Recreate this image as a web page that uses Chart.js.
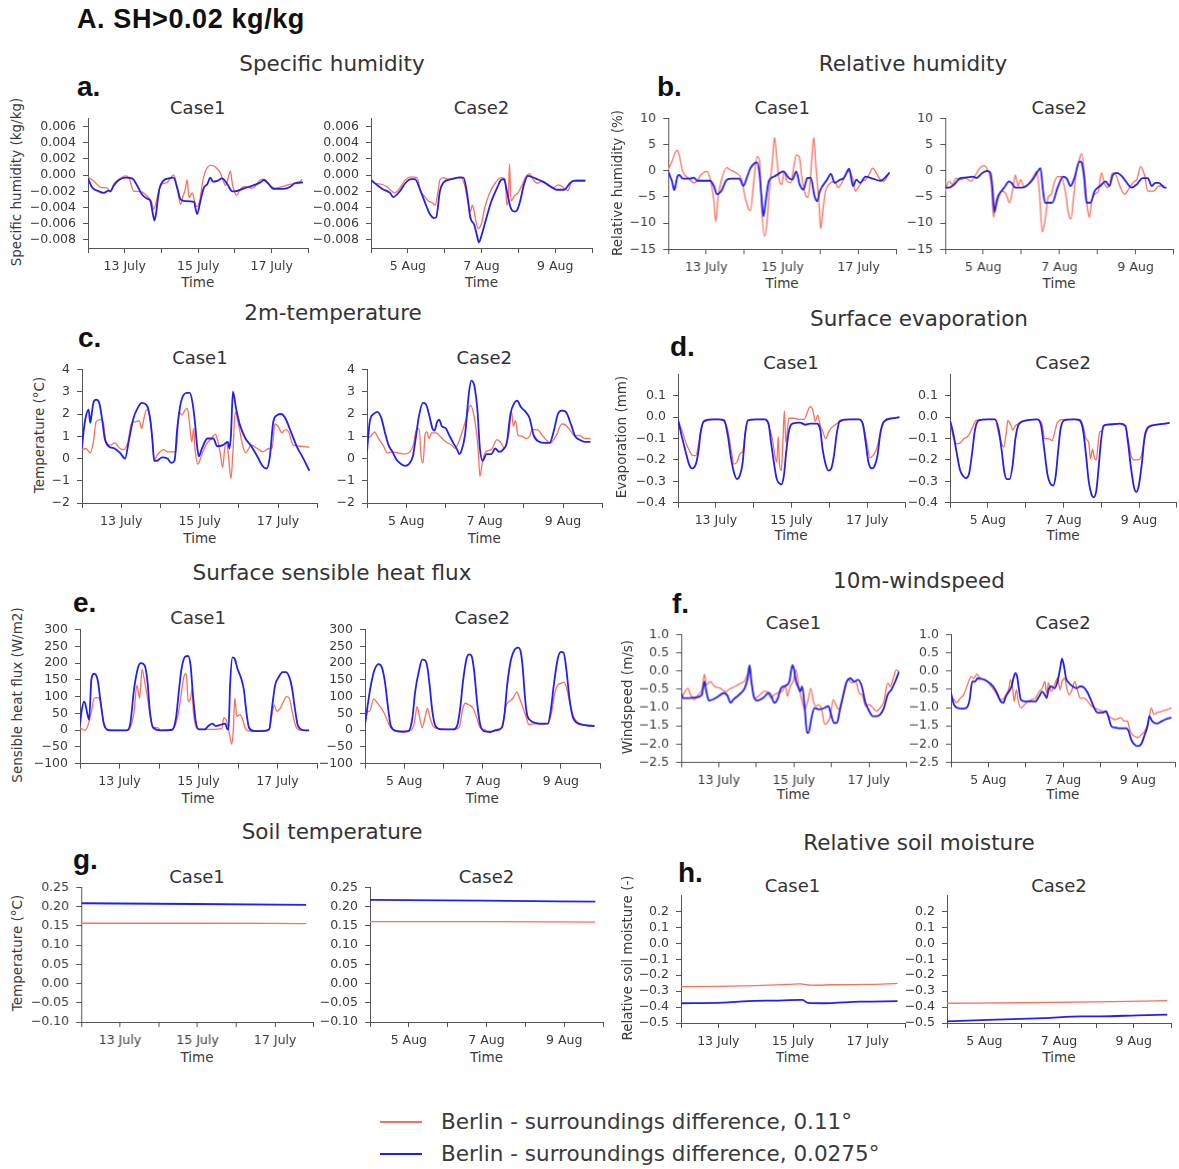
<!DOCTYPE html>
<html>
<head>
<meta charset="utf-8">
<script src="https://cdn.jsdelivr.net/npm/chart.js@4.4.1/dist/chart.umd.min.js"></script>
<style>
  html,body{margin:0;padding:0;background:#fff;width:1179px;height:1169px;overflow:hidden;position:relative;}
  .t{position:absolute;white-space:nowrap;line-height:1;font-family:"DejaVu Sans",sans-serif;color:#333;}
  .c{transform:translate(-50%,-50%);}
  .rot{transform:translate(-50%,-50%) rotate(-90deg);}
  .bold{font-family:"Liberation Sans",Arial,sans-serif;font-weight:bold;color:#111;}
  .chartbox{position:absolute;}
</style>
</head>
<body>
<script>
// ---------------- DATA ----------------
// x values are days since the start of each case (Case1: 12 July 00:00, Case2: 4 Aug 00:00)
const X_TICKS = [0, 1, 2, 3, 4, 5, 6];
const CASE1_XLABELS = ['', '13 July', '', '15 July', '', '17 July', ''];
const CASE2_XLABELS = ['', '5 Aug', '', '7 Aug', '', '9 Aug', ''];

const SH_YTICKS  = [-0.008, -0.006, -0.004, -0.002, 0, 0.002, 0.004, 0.006];
const RH_YTICKS  = [-15, -10, -5, 0, 5, 10];
const T2_YTICKS  = [-2, -1, 0, 1, 2, 3, 4];
const EV_YTICKS  = [-0.4, -0.3, -0.2, -0.1, 0, 0.1];
const SHF_YTICKS = [-100, -50, 0, 50, 100, 150, 200, 250, 300];
const WS_YTICKS  = [-2.5, -2, -1.5, -1, -0.5, 0, 0.5, 1];
const ST_YTICKS  = [-0.1, -0.05, 0, 0.05, 0.1, 0.15, 0.2, 0.25];
const SM_YTICKS  = [-0.5, -0.4, -0.3, -0.2, -0.1, 0, 0.1, 0.2];

const SERIES_NAMES = ['Berlin - surroundings difference, 0.11°', 'Berlin - surroundings difference, 0.0275°'];

// a. Specific humidity (kg/kg)
const SH_C1_011 = [[0,-0.00024],[0.15,-0.0007],[0.34,-0.0015],[0.52,-0.0016],[0.61,-0.002],[0.7,-0.0011],[0.88,-0.0004],[1.02,-0.0001],[1.11,-0.0003],[1.25,-0.002],[1.34,-0.002],[1.47,-0.0021],[1.61,-0.0026],[1.72,-0.0032],[1.79,-0.0042],[1.86,-0.0033],[1.93,-0.0018],[2.02,-0.0011],[2.15,-0.0009],[2.29,-0.0001],[2.34,0],[2.43,-0.0016],[2.52,-0.0036],[2.58,-0.0027],[2.65,-0.0017],[2.7,-0.0006],[2.75,-0.0028],[2.84,-0.0022],[2.9,-0.0032],[2.97,-0.0039],[3.05,-0.003],[3.11,-0.0011],[3.2,0.0005],[3.34,0.0012],[3.47,0.001],[3.61,0.0002],[3.68,-0.0007],[3.75,-0.0013],[3.84,0.0001],[3.88,0.0005],[3.93,-0.0011],[4.0,-0.0022],[4.04,-0.0025],[4.15,-0.0017],[4.27,-0.0014],[4.48,-0.0016],[4.69,-0.0006],[4.79,-0.0005],[4.9,-0.001],[5.1,-0.0016],[5.31,-0.0014],[5.52,-0.0011],[5.73,-0.001],[5.83,-0.0005]];
const SH_C1_0275 = [[0,-0.0004],[0.11,-0.0015],[0.29,-0.002],[0.43,-0.0022],[0.56,-0.0019],[0.61,-0.002],[0.7,-0.0013],[0.84,-0.0006],[1.02,-0.0003],[1.2,-0.0004],[1.34,-0.0013],[1.47,-0.0024],[1.61,-0.0029],[1.7,-0.0032],[1.75,-0.0044],[1.81,-0.0056],[1.86,-0.0045],[1.9,-0.003],[1.95,-0.0016],[2.05,-0.0007],[2.2,-0.0004],[2.33,-0.0003],[2.43,-0.0016],[2.52,-0.003],[2.65,-0.0032],[2.88,-0.0033],[2.97,-0.0048],[3.06,-0.0032],[3.15,-0.0016],[3.25,-0.0011],[3.33,-0.0003],[3.4,-0.0008],[3.52,-0.0007],[3.65,-0.0004],[3.79,-0.0011],[3.93,-0.002],[4.0,-0.002],[4.27,-0.0016],[4.48,-0.0013],[4.69,-0.0009],[4.79,-0.0006],[4.9,-0.001],[5.05,-0.0017],[5.31,-0.0017],[5.52,-0.0014],[5.62,-0.001],[5.85,-0.0009]];
const SH_C2_011 = [[0,-0.0005],[0.1,-0.001],[0.26,-0.0011],[0.42,-0.0014],[0.57,-0.002],[0.64,-0.0022],[0.78,-0.0016],[0.93,-0.0006],[1.09,-0.0002],[1.25,-0.0003],[1.35,-0.002],[1.45,-0.0026],[1.56,-0.0032],[1.66,-0.0034],[1.74,-0.0037],[1.82,-0.002],[1.87,-0.0006],[1.97,-0.0003],[2.08,-0.0005],[2.23,-0.0004],[2.44,-0.0002],[2.54,-0.0012],[2.65,-0.0037],[2.7,-0.0045],[2.75,-0.0037],[2.8,-0.0045],[2.86,-0.0059],[2.91,-0.0066],[2.99,-0.0061],[3.09,-0.004],[3.22,-0.0022],[3.37,-0.001],[3.53,-0.0003],[3.64,-0.0005],[3.69,-0.0037],[3.73,-0.0028],[3.76,0.0014],[3.8,-0.0032],[3.89,-0.0026],[3.99,-0.0022],[4.1,-0.0012],[4.2,-0.0002],[4.3,0.0002],[4.41,-0.0006],[4.52,-0.001],[4.62,-0.0008],[4.78,-0.0012],[4.93,-0.0016],[5.09,-0.0012],[5.24,-0.0016],[5.34,-0.0019],[5.45,-0.0008],[5.6,-0.0006],[5.82,-0.0006]];
const SH_C2_0275 = [[0,-0.0006],[0.16,-0.0012],[0.31,-0.0017],[0.52,-0.0022],[0.6,-0.0027],[0.78,-0.002],[0.93,-0.001],[1.09,-0.0005],[1.19,-0.0005],[1.35,-0.002],[1.51,-0.0039],[1.61,-0.0049],[1.71,-0.0053],[1.77,-0.0052],[1.87,-0.002],[1.97,-0.0009],[2.18,-0.0005],[2.39,-0.0003],[2.51,-0.0003],[2.6,-0.002],[2.7,-0.0053],[2.8,-0.0061],[2.89,-0.0077],[2.93,-0.0083],[3.01,-0.0073],[3.12,-0.0055],[3.27,-0.0032],[3.43,-0.0015],[3.53,-0.0006],[3.61,-0.0005],[3.69,-0.002],[3.79,-0.004],[3.89,-0.0045],[3.97,-0.0043],[4.05,-0.0032],[4.15,-0.0012],[4.26,-0.0001],[4.36,-0.0002],[4.46,-0.0004],[4.67,-0.0008],[4.88,-0.0014],[5.03,-0.0018],[5.24,-0.0018],[5.4,-0.001],[5.5,-0.0007],[5.82,-0.0007]];

// b. Relative humidity (%)
const RH_C1_011 = [[0,0.2],[0.1,1.8],[0.19,3.6],[0.24,3.9],[0.29,3],[0.38,-0.1],[0.53,-1.4],[0.67,-2.3],[0.74,-2.1],[0.86,-0.8],[1.01,-0.1],[1.1,-1.5],[1.2,-5.8],[1.25,-9.7],[1.31,-5.1],[1.39,-2],[1.54,0.6],[1.63,0.2],[1.78,-0.4],[1.92,-1.5],[2.02,-5.1],[2.11,-7.3],[2.16,-7.6],[2.24,-2.6],[2.33,2.7],[2.4,1.8],[2.45,-6.7],[2.53,-12.5],[2.59,-10.1],[2.67,-2.6],[2.73,1.4],[2.79,6.4],[2.85,2.4],[2.91,-1.7],[2.98,-2.6],[3.04,-0.1],[3.12,-2],[3.22,-2.3],[3.29,0.5],[3.36,3],[3.44,2.7],[3.5,-0.8],[3.6,-4.5],[3.67,-5.1],[3.72,-2.6],[3.77,2.4],[3.82,6.4],[3.88,0.5],[3.96,-6.4],[4.0,-11.1],[4.06,-7.6],[4.13,-3.9],[4.22,-2.6],[4.37,-2],[4.46,-3.2],[4.56,-2.3],[4.65,-0.8],[4.75,-0.1],[4.85,-1.7],[4.91,-3.9],[4.99,-3.2],[5.09,-2],[5.18,-1.7],[5.28,-0.6],[5.37,0.5],[5.44,-0.1],[5.57,-1.7],[5.66,-2],[5.81,-0.2]];
const RH_C1_0275 = [[0,-0.1],[0.1,-2],[0.16,-3.7],[0.24,-1.1],[0.29,-0.8],[0.38,-1.5],[0.58,-1.5],[0.67,-1.3],[0.77,-1.9],[1.1,-1.9],[1.2,-2.9],[1.28,-4.5],[1.39,-3.9],[1.54,-1.7],[1.68,-1.5],[1.87,-1.5],[1.97,-2.9],[2.06,-1.4],[2.16,0.5],[2.26,1.4],[2.33,1.6],[2.4,-0.8],[2.45,-5.1],[2.5,-8.7],[2.56,-5.8],[2.64,-2],[2.78,-1.1],[2.93,-0.4],[3.02,-0.1],[3.17,-1.4],[3.26,-1.7],[3.36,-0.1],[3.45,-2.6],[3.55,-3.6],[3.65,-1.4],[3.74,-1.3],[3.84,-4.8],[3.91,-5.8],[3.98,-3.9],[4.17,-1.7],[4.27,-0.6],[4.37,-2.3],[4.51,-1.7],[4.61,-1.4],[4.7,-0.1],[4.75,0.4],[4.85,-2.9],[4.94,-1.7],[5.04,-2.3],[5.18,-1.1],[5.37,-1.5],[5.57,-1.9],[5.81,-0.4]];
const RH_C2_011 = [[0,-3.9],[0.1,-2],[0.19,-2.6],[0.29,-1.4],[0.39,-1.7],[0.53,-1.4],[0.68,-2],[0.77,-1.1],[0.92,0.6],[1.02,1.0],[1.11,0.2],[1.21,-2.6],[1.27,-8.9],[1.33,-5.8],[1.4,-4.5],[1.5,-3.9],[1.6,-4.5],[1.69,-6.1],[1.77,-3.6],[1.84,-0.8],[1.91,-2.9],[1.98,-1.7],[2.08,-3.2],[2.18,-2.6],[2.32,-1.1],[2.4,-0.1],[2.47,-3.9],[2.55,-11.7],[2.62,-9.5],[2.7,-5.1],[2.78,-4.5],[2.86,-2.3],[2.95,-1.1],[3.05,-1.1],[3.15,-3.9],[3.24,-8.3],[3.3,-9.2],[3.37,-5.1],[3.44,-0.1],[3.53,2.4],[3.58,3.3],[3.65,-0.1],[3.73,-7],[3.78,-8.9],[3.85,-5.8],[3.92,-4.5],[4.02,-3.9],[4.1,-0.4],[4.19,-2.6],[4.29,-3.2],[4.39,-0.4],[4.48,-0.8],[4.6,-3.2],[4.71,-4.5],[4.84,-3.2],[4.97,-2],[5.03,-1.7],[5.13,0.8],[5.23,-0.8],[5.32,-3.9],[5.47,-3.9],[5.61,-2.9],[5.76,-2.9]];
const RH_C2_0275 = [[0,-3.2],[0.1,-3.2],[0.24,-2.6],[0.39,-1.4],[0.53,-1.3],[0.73,-1.1],[0.82,-1.4],[0.97,-0.4],[1.11,0],[1.19,-0.4],[1.24,-3.2],[1.29,-7.9],[1.33,-6.7],[1.4,-4.8],[1.55,-3.2],[1.68,-2],[1.74,-2.3],[1.84,-3.2],[2.03,-3.2],[2.18,-2.6],[2.32,-1.4],[2.42,-0.2],[2.5,0.5],[2.57,-3.9],[2.62,-6.1],[2.81,-6.1],[2.95,-3.2],[3.1,-1.1],[3.19,-1.5],[3.29,-2.9],[3.39,-1.4],[3.53,1.8],[3.58,1.6],[3.65,-1.4],[3.71,-6.1],[3.81,-6.1],[3.92,-3.9],[4.07,-2.9],[4.21,-2],[4.31,-2.9],[4.4,-0.8],[4.5,-0.4],[4.65,-1.1],[4.74,-2],[4.89,-3.2],[5.03,-2.6],[5.18,-1.4],[5.32,-1.4],[5.42,-2.9],[5.52,-2.3],[5.61,-2.3],[5.76,-3.2],[5.81,-3.2]];

// c. 2m-temperature (°C)
const T2_C1_011 = [[0,0.4],[0.1,0.45],[0.21,0.25],[0.29,0.75],[0.36,1.65],[0.46,1.75],[0.54,1.65],[0.61,0.75],[0.73,0.6],[0.83,0.7],[0.97,0.45],[1.07,0.4],[1.17,0.75],[1.26,1.55],[1.36,1.65],[1.46,1.7],[1.52,1.35],[1.58,1.8],[1.65,2.2],[1.72,1.95],[1.8,0.75],[1.84,-0.05],[1.94,0.2],[2.08,0.4],[2.18,0.3],[2.33,0.3],[2.4,0.3],[2.48,2.1],[2.55,1.95],[2.62,2.15],[2.69,2.25],[2.75,1.45],[2.8,0.75],[2.85,1.35],[2.88,0.5],[2.96,-0.25],[3.04,0.1],[3.16,0.6],[3.3,0.9],[3.4,1.1],[3.47,0.75],[3.52,0.3],[3.59,-0.4],[3.64,0.45],[3.69,0.75],[3.74,0.05],[3.8,-0.9],[3.85,0.3],[3.91,2.1],[3.98,1.65],[4.08,0.75],[4.17,0.25],[4.32,0.6],[4.47,0.45],[4.61,0.3],[4.76,0.45],[4.85,0.45],[4.92,1.55],[5.0,1.45],[5.1,1.15],[5.19,1.3],[5.27,1.2],[5.39,0.6],[5.58,0.55],[5.8,0.5]];
const T2_C1_0275 = [[0,0.5],[0.05,1.35],[0.1,1.9],[0.17,2.2],[0.21,1.6],[0.24,1.9],[0.29,2.5],[0.36,2.65],[0.44,2.5],[0.51,1.8],[0.58,0.9],[0.68,0.55],[0.83,0.45],[0.97,0.25],[1.1,0],[1.19,0.75],[1.31,1.8],[1.43,2.3],[1.52,2.5],[1.65,2.4],[1.75,1.65],[1.8,0.75],[1.84,-0.1],[1.91,-0.1],[2.04,0.05],[2.18,0],[2.28,-0.2],[2.36,-0.1],[2.43,1.35],[2.52,2.5],[2.67,2.95],[2.75,2.95],[2.82,2.5],[2.88,1.65],[2.94,0.5],[2.98,0.1],[3.06,0.45],[3.2,0.9],[3.35,0.9],[3.45,0.55],[3.59,0.6],[3.72,0.75],[3.76,0.45],[3.8,1.05],[3.85,3.0],[3.93,2.25],[4.03,1.5],[4.17,0.9],[4.32,0.55],[4.47,0.1],[4.61,-0.35],[4.71,-0.45],[4.79,0.05],[4.88,1.65],[4.98,1.95],[5.08,2.0],[5.19,1.8],[5.34,1.15],[5.49,0.5],[5.63,0.05],[5.8,-0.55]];
const T2_C2_011 = [[0,0.9],[0.1,1.0],[0.19,1.2],[0.29,0.9],[0.41,0.6],[0.52,0.25],[0.65,0.3],[0.8,0.25],[0.94,0.2],[1.09,0.3],[1.18,0.6],[1.26,1.3],[1.33,1.35],[1.38,0.1],[1.43,-0.2],[1.48,1.05],[1.53,1.2],[1.58,0.9],[1.65,1.15],[1.77,1.15],[1.86,1.0],[2.01,0.75],[2.16,0.6],[2.25,0.45],[2.33,0.7],[2.43,1.2],[2.54,1.85],[2.64,2.4],[2.72,2.0],[2.79,1.2],[2.84,0.3],[2.88,-0.8],[2.95,-0.1],[3.03,0.3],[3.17,0.4],[3.32,0.85],[3.42,0.7],[3.51,0.45],[3.61,1.05],[3.69,2.1],[3.73,1.45],[3.79,1.7],[3.85,1.05],[3.95,1.0],[4.05,0.9],[4.15,1.0],[4.21,1.3],[4.34,1.3],[4.49,1.0],[4.68,0.7],[4.83,1.05],[4.97,1.55],[5.07,1.5],[5.21,1.2],[5.31,1.0],[5.41,1.05],[5.55,0.9],[5.7,0.9]];
const T2_C2_0275 = [[0,0.3],[0.07,1.65],[0.17,2.0],[0.26,2.1],[0.36,1.85],[0.46,1.15],[0.55,0.6],[0.65,0.3],[0.75,-0.05],[0.87,-0.25],[0.97,-0.33],[1.07,-0.25],[1.17,0.1],[1.23,0.75],[1.33,1.95],[1.43,2.5],[1.5,2.45],[1.58,2.0],[1.67,1.35],[1.72,1.25],[1.79,1.65],[1.84,1.75],[1.91,1.45],[2.01,1.35],[2.11,1.0],[2.2,0.7],[2.3,0.4],[2.35,0.2],[2.4,0.3],[2.5,1.05],[2.6,2.95],[2.66,3.5],[2.74,3.25],[2.82,2.1],[2.88,0.45],[2.95,-0.1],[3.05,0.2],[3.17,0.2],[3.27,0.45],[3.37,0.3],[3.47,0.4],[3.57,0.75],[3.66,2.0],[3.76,2.5],[3.83,2.6],[3.93,2.3],[4.02,2.15],[4.15,1.8],[4.25,1.05],[4.39,0.75],[4.54,0.7],[4.66,0.7],[4.76,1.2],[4.87,2.0],[4.97,2.15],[5.07,2.1],[5.21,1.5],[5.31,1.0],[5.41,0.85],[5.55,0.75],[5.7,0.75]];

// d. Surface evaporation (mm)
const EV_C1_011 = [[0,-0.015],[0.1,-0.06],[0.21,-0.12],[0.31,-0.16],[0.39,-0.18],[0.47,-0.18],[0.54,-0.13],[0.6,-0.065],[0.68,-0.02],[1.07,-0.01],[1.22,-0.02],[1.32,-0.065],[1.41,-0.16],[1.48,-0.22],[1.56,-0.21],[1.64,-0.17],[1.71,-0.16],[1.78,-0.07],[1.85,-0.015],[2.29,-0.01],[2.39,-0.035],[2.49,-0.1],[2.56,-0.18],[2.61,-0.21],[2.65,-0.09],[2.68,-0.22],[2.73,-0.25],[2.77,-0.12],[2.81,0.03],[2.85,-0.12],[2.93,-0.005],[3.07,-0.005],[3.22,-0.01],[3.34,-0.01],[3.41,0.02],[3.49,0.05],[3.56,0.035],[3.63,-0.02],[3.69,0.01],[3.76,-0.04],[3.82,-0.065],[3.9,-0.1],[3.98,-0.07],[4.05,-0.05],[4.12,-0.04],[4.2,-0.03],[4.29,-0.015],[4.78,-0.01],[4.9,-0.04],[5.0,-0.13],[5.07,-0.19],[5.15,-0.18],[5.22,-0.16],[5.29,-0.12],[5.37,-0.06],[5.46,-0.02],[5.85,0]];
const EV_C1_0275 = [[0,-0.01],[0.1,-0.09],[0.2,-0.16],[0.29,-0.22],[0.37,-0.24],[0.47,-0.22],[0.54,-0.16],[0.6,-0.07],[0.68,-0.02],[0.88,-0.01],[1.07,-0.01],[1.22,-0.015],[1.32,-0.09],[1.39,-0.18],[1.48,-0.26],[1.56,-0.29],[1.64,-0.27],[1.71,-0.21],[1.78,-0.07],[1.85,-0.015],[2.05,-0.01],[2.29,-0.01],[2.39,-0.03],[2.46,-0.12],[2.54,-0.22],[2.61,-0.29],[2.68,-0.31],[2.73,-0.315],[2.8,-0.27],[2.86,-0.16],[2.93,-0.065],[3.02,-0.03],[3.22,-0.025],[3.37,-0.035],[3.49,-0.03],[3.66,-0.03],[3.76,-0.06],[3.82,-0.15],[3.9,-0.22],[3.98,-0.25],[4.05,-0.24],[4.12,-0.18],[4.2,-0.07],[4.27,-0.02],[4.49,-0.01],[4.78,-0.01],[4.88,-0.03],[4.96,-0.12],[5.03,-0.21],[5.12,-0.24],[5.19,-0.23],[5.27,-0.18],[5.35,-0.07],[5.44,-0.02],[5.66,-0.005],[5.85,0]];
const EV_C2_011 = [[0,-0.015],[0.08,-0.09],[0.17,-0.125],[0.27,-0.12],[0.37,-0.1],[0.47,-0.09],[0.51,-0.08],[0.59,-0.05],[0.69,-0.015],[1.0,-0.01],[1.19,-0.01],[1.29,-0.08],[1.37,-0.125],[1.42,-0.14],[1.49,-0.07],[1.53,-0.015],[1.6,-0.035],[1.66,-0.06],[1.73,-0.04],[1.83,-0.03],[2.02,-0.015],[2.31,-0.01],[2.44,-0.035],[2.5,-0.1],[2.6,-0.1],[2.7,-0.11],[2.77,-0.07],[2.83,-0.03],[2.9,-0.015],[3.04,-0.01],[3.43,-0.01],[3.52,-0.04],[3.6,-0.1],[3.67,-0.12],[3.72,-0.195],[3.77,-0.15],[3.82,-0.19],[3.87,-0.2],[3.92,-0.12],[3.96,-0.07],[4.01,-0.065],[4.11,-0.035],[4.49,-0.03],[4.64,-0.045],[4.71,-0.1],[4.79,-0.18],[4.87,-0.2],[4.96,-0.2],[5.03,-0.195],[5.1,-0.15],[5.15,-0.1],[5.25,-0.05],[5.81,-0.027]];
const EV_C2_0275 = [[0,-0.015],[0.08,-0.07],[0.17,-0.16],[0.27,-0.25],[0.37,-0.28],[0.42,-0.285],[0.51,-0.26],[0.59,-0.16],[0.66,-0.06],[0.76,-0.015],[1.0,-0.01],[1.19,-0.01],[1.29,-0.06],[1.37,-0.16],[1.44,-0.26],[1.5,-0.29],[1.58,-0.29],[1.66,-0.22],[1.73,-0.1],[1.83,-0.03],[2.02,-0.015],[2.31,-0.01],[2.41,-0.04],[2.5,-0.16],[2.58,-0.27],[2.65,-0.31],[2.73,-0.32],[2.8,-0.27],[2.86,-0.16],[2.92,-0.06],[3.02,-0.015],[3.28,-0.01],[3.43,-0.015],[3.52,-0.06],[3.6,-0.18],[3.67,-0.3],[3.74,-0.36],[3.8,-0.375],[3.87,-0.345],[3.93,-0.24],[3.99,-0.12],[4.06,-0.04],[4.2,-0.035],[4.49,-0.03],[4.64,-0.04],[4.71,-0.12],[4.79,-0.24],[4.87,-0.33],[4.93,-0.35],[5.0,-0.315],[5.08,-0.21],[5.15,-0.09],[5.25,-0.045],[5.46,-0.035],[5.71,-0.03],[5.81,-0.027]];

// e. Surface sensible heat flux (W/m2)
const SHF_C1_011 = [[0,7],[0.07,2],[0.13,-1],[0.21,17],[0.29,56],[0.36,95],[0.45,97],[0.52,85],[0.6,21],[0.69,2],[1.18,-1],[1.27,7],[1.37,56],[1.44,134],[1.51,95],[1.57,182],[1.64,143],[1.71,95],[1.77,46],[1.85,9],[1.97,7],[2.04,-1],[2.33,1],[2.43,21],[2.51,65],[2.57,114],[2.64,163],[2.69,168],[2.74,85],[2.8,95],[2.84,122],[2.87,56],[2.93,12],[3.01,2],[3.39,2],[3.59,5],[3.64,36],[3.7,31],[3.76,2],[3.8,-22],[3.84,-42],[3.88,-3],[3.92,95],[3.97,41],[4.05,46],[4.12,31],[4.18,7],[4.28,-3],[4.65,-1],[4.79,2],[4.86,46],[4.92,75],[4.98,56],[5.08,67],[5.15,85],[5.23,100],[5.3,95],[5.37,56],[5.47,9],[5.62,-1],[5.8,-1]];
const SHF_C1_0275 = [[0,17],[0.04,56],[0.1,85],[0.13,80],[0.19,46],[0.23,31],[0.29,153],[0.36,168],[0.45,148],[0.52,85],[0.6,21],[0.68,2],[0.79,-1],[1.18,-1],[1.27,17],[1.37,124],[1.47,187],[1.54,200],[1.64,192],[1.71,143],[1.77,56],[1.85,7],[2.04,-1],[2.33,1],[2.43,36],[2.51,124],[2.57,183],[2.67,220],[2.74,221],[2.8,192],[2.86,104],[2.93,26],[3.01,2],[3.15,2],[3.25,12],[3.35,19],[3.44,12],[3.54,15],[3.68,19],[3.73,2],[3.76,2],[3.8,134],[3.86,217],[3.92,212],[3.99,182],[4.07,158],[4.15,119],[4.21,56],[4.28,7],[4.41,-3],[4.65,-3],[4.79,2],[4.86,65],[4.94,134],[5.03,158],[5.13,173],[5.21,173],[5.3,158],[5.37,124],[5.44,65],[5.52,12],[5.71,-1],[5.8,-1]];
const SHF_C2_011 = [[0,21],[0.07,56],[0.12,56],[0.22,93],[0.32,80],[0.42,65],[0.51,46],[0.61,17],[0.71,2],[0.96,-3],[1.16,-1],[1.26,21],[1.33,70],[1.39,41],[1.46,7],[1.53,36],[1.59,65],[1.66,36],[1.74,12],[1.85,5],[2.25,2],[2.4,7],[2.5,65],[2.56,80],[2.66,75],[2.76,65],[2.84,41],[2.94,7],[3.04,2],[3.19,-8],[3.34,2],[3.49,7],[3.61,75],[3.68,85],[3.78,95],[3.88,114],[3.93,100],[4.01,75],[4.11,41],[4.18,17],[4.33,19],[4.52,17],[4.67,19],[4.77,56],[4.84,107],[4.92,134],[5.0,139],[5.07,143],[5.14,129],[5.22,85],[5.32,41],[5.42,24],[5.61,15],[5.86,12]];
const SHF_C2_0275 = [[0,17],[0.07,75],[0.15,134],[0.25,182],[0.35,197],[0.43,187],[0.51,143],[0.58,75],[0.66,12],[0.81,-3],[0.96,-5],[1.11,-3],[1.21,36],[1.28,114],[1.38,178],[1.46,210],[1.54,207],[1.6,182],[1.65,134],[1.72,56],[1.8,12],[1.95,2],[2.25,2],[2.35,12],[2.43,65],[2.5,143],[2.59,212],[2.66,226],[2.72,221],[2.79,173],[2.86,85],[2.94,17],[3.04,-3],[3.19,-5],[3.34,-1],[3.49,7],[3.56,46],[3.63,134],[3.73,212],[3.83,241],[3.91,246],[3.98,231],[4.03,182],[4.08,104],[4.13,51],[4.23,28],[4.38,21],[4.52,19],[4.67,19],[4.74,56],[4.82,134],[4.92,212],[5.0,233],[5.07,231],[5.14,182],[5.22,95],[5.3,41],[5.42,21],[5.61,15],[5.86,12]];

// f. 10m-windspeed (m/s)
const WS_C1_011 = [[0,-0.74],[0.08,-0.6],[0.18,-0.47],[0.25,-0.65],[0.35,-0.78],[0.45,-0.65],[0.55,-0.51],[0.62,-0.09],[0.67,-0.38],[0.77,-0.29],[0.89,-0.42],[1.04,-0.47],[1.19,-0.56],[1.29,-0.49],[1.44,-0.42],[1.59,-0.33],[1.69,-0.27],[1.77,-0.06],[1.82,0.12],[1.87,-0.29],[1.97,-0.74],[2.1,-0.65],[2.2,-0.56],[2.3,-0.56],[2.38,-0.74],[2.48,-0.65],[2.58,-0.6],[2.68,-0.56],[2.78,-0.42],[2.83,-0.69],[2.9,-0.42],[2.98,-0.29],[3.06,0.03],[3.13,-0.42],[3.22,-0.83],[3.29,-1.05],[3.37,-0.83],[3.45,-0.47],[3.52,-0.83],[3.59,-0.96],[3.67,-0.92],[3.75,-1.1],[3.82,-1.46],[3.89,-1.42],[3.97,-1.24],[4.05,-0.78],[4.12,-0.92],[4.19,-1.05],[4.27,-0.83],[4.37,-0.38],[4.45,-0.24],[4.55,-0.33],[4.65,-0.29],[4.74,-0.6],[4.82,-0.65],[4.91,-0.96],[5.01,-0.92],[5.11,-1.01],[5.2,-1.1],[5.3,-1.01],[5.4,-0.83],[5.5,-0.33],[5.57,-0.42],[5.65,-0.2],[5.73,0.03],[5.8,-0.02]];
const WS_C1_0275 = [[0,-0.6],[0.05,-0.74],[0.2,-0.74],[0.4,-0.72],[0.55,-0.65],[0.62,-0.29],[0.67,-0.56],[0.74,-0.81],[0.84,-0.78],[0.99,-0.69],[1.14,-0.6],[1.24,-0.69],[1.31,-0.87],[1.39,-0.78],[1.54,-0.65],[1.69,-0.47],[1.77,-0.2],[1.82,0.16],[1.87,-0.29],[1.93,-0.69],[2.03,-0.81],[2.18,-0.74],[2.33,-0.6],[2.4,-0.69],[2.48,-0.87],[2.56,-0.78],[2.66,-0.47],[2.78,-0.4],[2.88,-0.29],[2.96,0.16],[3.0,0.07],[3.06,-0.29],[3.13,-0.47],[3.17,-0.56],[3.22,-0.42],[3.29,-1.01],[3.35,-1.69],[3.39,-1.69],[3.47,-1.28],[3.55,-1.01],[3.67,-1.05],[3.82,-1.01],[3.92,-0.96],[3.99,-1.19],[4.07,-1.42],[4.15,-1.42],[4.22,-1.1],[4.32,-0.65],[4.41,-0.29],[4.51,-0.2],[4.61,-0.29],[4.71,-0.24],[4.81,-0.42],[4.91,-0.87],[5.01,-1.1],[5.11,-1.24],[5.2,-1.24],[5.3,-1.19],[5.4,-1.01],[5.5,-0.65],[5.6,-0.51],[5.7,-0.29],[5.8,-0.02]];
const WS_C2_011 = [[0,-0.74],[0.08,-0.78],[0.15,-0.87],[0.25,-0.74],[0.34,-0.65],[0.44,-0.38],[0.54,-0.15],[0.61,-0.2],[0.69,-0.09],[0.79,-0.2],[0.93,-0.24],[1.08,-0.42],[1.18,-0.56],[1.28,-0.74],[1.38,-0.78],[1.47,-0.65],[1.55,-0.47],[1.59,-0.24],[1.65,-0.47],[1.69,-0.83],[1.75,-0.51],[1.8,-0.83],[1.87,-1.01],[1.97,-0.92],[2.06,-0.83],[2.16,-0.78],[2.26,-0.74],[2.36,-0.56],[2.44,-0.47],[2.51,-0.29],[2.56,-0.6],[2.61,-0.33],[2.68,-0.56],[2.77,-0.38],[2.85,-0.2],[2.92,-0.51],[2.97,-0.29],[3.05,-0.2],[3.09,-0.42],[3.16,-0.65],[3.24,-0.51],[3.31,-0.29],[3.38,-0.51],[3.46,-0.74],[3.56,-0.74],[3.66,-0.83],[3.76,-0.96],[3.85,-1.01],[3.93,-1.05],[4.05,-1.1],[4.15,-1.14],[4.22,-1.24],[4.29,-1.28],[4.39,-1.33],[4.54,-1.28],[4.64,-1.37],[4.72,-1.37],[4.78,-1.6],[4.82,-1.69],[4.9,-1.78],[5.0,-1.82],[5.11,-1.73],[5.21,-1.6],[5.29,-1.33],[5.36,-1.01],[5.43,-1.19],[5.52,-1.14],[5.65,-1.1],[5.8,-1.05],[5.9,-1.01]];
const WS_C2_0275 = [[0,-0.6],[0.08,-0.92],[0.18,-1.01],[0.3,-1.03],[0.41,-1.01],[0.49,-0.83],[0.57,-0.29],[0.64,-0.29],[0.71,-0.2],[0.84,-0.22],[0.98,-0.29],[1.13,-0.42],[1.23,-0.6],[1.33,-0.83],[1.4,-0.87],[1.47,-0.69],[1.55,-0.56],[1.62,-0.42],[1.67,-0.2],[1.72,-0.06],[1.77,-0.15],[1.82,-0.51],[1.87,-0.78],[1.97,-0.83],[2.11,-0.83],[2.26,-0.83],[2.36,-0.69],[2.44,-0.56],[2.51,-0.65],[2.56,-0.74],[2.61,-0.51],[2.68,-0.42],[2.77,-0.47],[2.85,-0.29],[2.92,0.07],[2.97,0.34],[3.02,0.16],[3.08,-0.2],[3.16,-0.33],[3.26,-0.42],[3.36,-0.47],[3.46,-0.42],[3.56,-0.45],[3.66,-0.6],[3.76,-0.83],[3.85,-1.05],[3.93,-1.14],[4.05,-1.14],[4.15,-1.1],[4.22,-1.28],[4.29,-1.51],[4.39,-1.55],[4.54,-1.57],[4.69,-1.57],[4.75,-1.64],[4.82,-1.87],[4.9,-2.0],[5.0,-2.06],[5.09,-2.0],[5.19,-1.73],[5.26,-1.51],[5.31,-1.24],[5.38,-1.37],[5.5,-1.44],[5.65,-1.37],[5.8,-1.3],[5.9,-1.28]];

// g. Soil temperature (°C)
const ST_C1_011  = [[0,0.157],[2.9,0.157],[5.8,0.156]];
const ST_C1_0275 = [[0,0.209],[2.9,0.207],[5.8,0.205]];
const ST_C2_011  = [[0,0.161],[2.9,0.161],[5.8,0.160]];
const ST_C2_0275 = [[0,0.218],[2.9,0.216],[5.8,0.213]];

// h. Relative soil moisture (-)
const SM_C1_011  = [[0,-0.272],[1,-0.27],[2,-0.265],[2.9,-0.258],[3.2,-0.255],[3.45,-0.262],[3.7,-0.263],[4.0,-0.26],[5.0,-0.258],[5.8,-0.252]];
const SM_C1_0275 = [[0,-0.376],[1.1,-0.372],[1.8,-0.363],[2.5,-0.359],[3.25,-0.355],[3.4,-0.374],[3.8,-0.376],[4.8,-0.366],[5.8,-0.363]];
const SM_C2_011  = [[0,-0.376],[2,-0.373],[4,-0.368],[5.9,-0.36]];
const SM_C2_0275 = [[0,-0.49],[1.1,-0.48],[2.6,-0.469],[3.6,-0.458],[4.1,-0.458],[5.1,-0.452],[5.9,-0.448]];

// ---------------- LAYOUT / STYLE ----------------
const RED = '#f8705e', BLUE = '#2020f2';
const AX = '#555555', TXT = '#3a3a3a';

const PANELS = [
  {letter:'a.', lx:77, lb:97, title:'Specific humidity', tx:332, ty:63, ylabel:'Specific humidity (kg/kg)', ylx:17,
   yt:SH_YTICKS, dec:3, ymin:-0.009, ymax:0.007, top:116, bot:248, c1:[87.6,308], c2:[371,592], caseY:107, timeY:282,
   d1:[SH_C1_011, SH_C1_0275], d2:[SH_C2_011, SH_C2_0275]},
  {letter:'b.', lx:657, lb:97, title:'Relative humidity', tx:913, ty:63, ylabel:'Relative humidity (%)', ylx:618,
   yt:RH_YTICKS, dec:0, ymin:-15, ymax:10, top:116, bot:249.3, c1:[668.3,896], c2:[945.3,1173], caseY:107, timeY:282.7,
   d1:[RH_C1_011, RH_C1_0275], d2:[RH_C2_011, RH_C2_0275]},
  {letter:'c.', lx:78, lb:348, title:'2m-temperature', tx:333, ty:312, ylabel:'Temperature (°C)', ylx:40,
   yt:T2_YTICKS, dec:0, ymin:-2, ymax:4, top:366.7, bot:502.7, c1:[82.3,317.5], c2:[366.6,601.8], caseY:356.7, timeY:538,
   d1:[T2_C1_011, T2_C1_0275], d2:[T2_C2_011, T2_C2_0275]},
  {letter:'d.', lx:670, lb:356.7, title:'Surface evaporation', tx:919, ty:318, ylabel:'Evaporation (mm)', ylx:622,
   yt:EV_YTICKS, dec:1, ymin:-0.4, ymax:0.2, top:371.7, bot:502.3, c1:[677.5,904.6], c2:[949.7,1176.5], caseY:361.7, timeY:535,
   d1:[EV_C1_011, EV_C1_0275], d2:[EV_C2_011, EV_C2_0275]},
  {letter:'e.', lx:73, lb:613, title:'Surface sensible heat flux', tx:332, ty:572, ylabel:'Sensible heat flux (W/m2)', ylx:18.4,
   yt:SHF_YTICKS, dec:0, ymin:-100, ymax:300, top:626.7, bot:763.3, c1:[79.6,316.6], c2:[364.7,599.7], caseY:616.7, timeY:798,
   d1:[SHF_C1_011, SHF_C1_0275], d2:[SHF_C2_011, SHF_C2_0275]},
  {letter:'f.', lx:672, lb:614, title:'10m-windspeed', tx:919, ty:580, ylabel:'Windspeed (m/s)', ylx:627.7,
   yt:WS_YTICKS, dec:1, ymin:-2.5, ymax:1.0, top:632.3, bot:761.7, c1:[681.2,905.6], c2:[950.8,1175], caseY:621.7, timeY:794,
   d1:[WS_C1_011, WS_C1_0275], d2:[WS_C2_011, WS_C2_0275]},
  {letter:'g.', lx:73, lb:870, title:'Soil temperature', tx:332, ty:831, ylabel:'Temperature (°C)', ylx:18.4,
   yt:ST_YTICKS, dec:2, ymin:-0.1, ymax:0.25, top:884.7, bot:1021.7, c1:[81.1,313], c2:[370,603], caseY:876, timeY:1056.7,
   d1:[ST_C1_011, ST_C1_0275], d2:[ST_C2_011, ST_C2_0275]},
  {letter:'h.', lx:678, lb:883, title:'Relative soil moisture', tx:919, ty:842, ylabel:'Relative soil moisture (-)', ylx:627.7,
   yt:SM_YTICKS, dec:1, ymin:-0.5, ymax:0.3, top:893.3, bot:1023.3, c1:[680.5,904.5], c2:[947,1171], caseY:885, timeY:1056.7,
   d1:[SM_C1_011, SM_C1_0275], d2:[SM_C2_011, SM_C2_0275]}
];

function text(str, x, y, cls, style) {
  const d = document.createElement('div');
  d.className = 't ' + (cls || '');
  d.textContent = str;
  d.style.left = x + 'px';
  d.style.top = y + 'px';
  if (style) Object.assign(d.style, style);
  document.body.appendChild(d);
  return d;
}

function fmt(v, dec) {
  return v.toFixed(dec).replace('-', '\u2212');
}

const YW = 64, PT = 12, PR = 6, XH = 30;
const tickFont = {family: 'DejaVu Sans', size: 12.5};

function makeChart(p, span, xLabels, pair) {
  const w = span[1] - span[0], h = p.bot - p.top;
  const box = document.createElement('div');
  box.className = 'chartbox';
  box.style.left = (span[0] - YW) + 'px';
  box.style.top = (p.top - PT) + 'px';
  box.style.width = (w + YW + PR) + 'px';
  box.style.height = (h + PT + XH) + 'px';
  const cv = document.createElement('canvas');
  box.appendChild(cv);
  document.body.appendChild(box);
  const toXY = arr => arr.map(q => ({x: q[0], y: q[1]}));
  new Chart(cv, {
    type: 'line',
    data: {
      datasets: [
        {label: SERIES_NAMES[1], data: toXY(pair[1]), borderColor: BLUE, borderWidth: 1.8, pointRadius: 0, cubicInterpolationMode: 'monotone', fill: false},
        {label: SERIES_NAMES[0], data: toXY(pair[0]), borderColor: RED, borderWidth: 1.3, pointRadius: 0, cubicInterpolationMode: 'monotone', fill: false}
      ]
    },
    options: {
      responsive: true, maintainAspectRatio: false, animation: false, devicePixelRatio: 1,
      layout: {padding: {top: PT, right: PR, left: 0, bottom: 0}},
      plugins: {legend: {display: false}, tooltip: {enabled: false}},
      scales: {
        x: {
          type: 'linear', min: 0, max: 6,
          afterBuildTicks: a => { a.ticks = X_TICKS.map(v => ({value: v})); },
          afterFit: s => { s.height = XH; },
          ticks: {autoSkip: false, maxRotation: 0, padding: 6, color: TXT, font: tickFont,
                  callback: (v, i) => xLabels[i]},
          grid: {display: true, drawOnChartArea: false, drawTicks: true, tickLength: 5, color: AX, lineWidth: 1},
          border: {display: true, color: AX, width: 1}
        },
        y: {
          min: p.ymin, max: p.ymax,
          afterBuildTicks: a => { a.ticks = p.yt.map(v => ({value: v})); },
          afterFit: s => { s.width = YW; },
          ticks: {autoSkip: false, padding: 7, color: TXT, font: tickFont, callback: v => fmt(v, p.dec)},
          grid: {display: true, drawOnChartArea: false, drawTicks: true, tickLength: 5, color: AX, lineWidth: 1},
          border: {display: true, color: AX, width: 1}
        }
      }
    }
  });
}

// Figure title
text('A. SH>0.02 kg/kg', 77, 6, 'bold', {fontSize: '27px', letterSpacing: '0.6px'});

PANELS.forEach(p => {
  text(p.letter, p.lx, p.lb - 23.7, 'bold', {fontSize: '28px'});
  text(p.title, p.tx, p.ty + 1, 'c', {fontSize: '21.5px'});
  text(p.ylabel, p.ylx, (p.top + p.bot) / 2, 'rot', {fontSize: '13.5px', color: TXT});
  [[p.c1, CASE1_XLABELS, p.d1, 'Case1'], [p.c2, CASE2_XLABELS, p.d2, 'Case2']].forEach(([span, xl, pair, nm]) => {
    const cx = (span[0] + span[1]) / 2;
    text(nm, cx, p.caseY + 1, 'c', {fontSize: '18px'});
    text('Time', cx, p.timeY + 1, 'c', {fontSize: '13.5px', color: TXT});
    makeChart(p, span, xl, pair);
  });
});

// Figure legend
[[RED, SERIES_NAMES[0], 1121.7], [BLUE, SERIES_NAMES[1], 1153.5]].forEach(([col, lab, y]) => {
  const ln = document.createElement('div');
  ln.style.cssText = `position:absolute;left:380px;width:42px;top:${y - 1}px;height:2px;background:${col};`;
  document.body.appendChild(ln);
  text(lab, 441, y + 0.5, '', {fontSize: '21.5px', color: '#3a3a3a', transform: 'translateY(-50%)'});
});
</script>
</body>
</html>
